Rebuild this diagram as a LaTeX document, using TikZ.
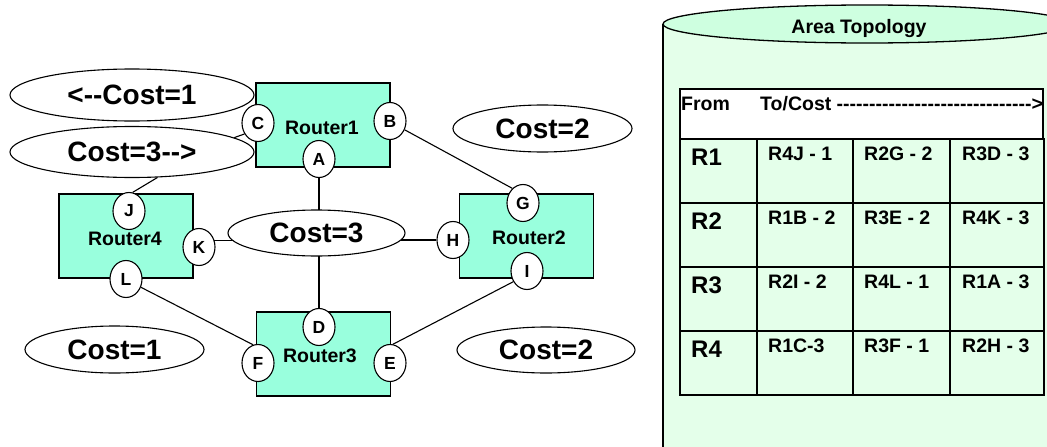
\documentclass[tikz,border=0pt]{standalone}
\usepackage{fontspec}
\newfontfamily\af{Liberation Sans}
\usetikzlibrary{shapes.geometric}
\pgfdeclarelayer{background}
\pgfsetlayers{background,main}

\definecolor{routerfill}{RGB}{153,255,221}
\definecolor{cylbody}{RGB}{228,255,234}
\definecolor{cyltop}{RGB}{206,255,224}

\newcommand\fsz[1]{\fontsize{#1}{#1}\selectfont}

\begin{document}
\begin{tikzpicture}[x=1pt,y=-1pt,
  router/.style={draw, line width=1.3pt, fill=routerfill, minimum width=134pt, minimum height=84pt, inner sep=0pt},
  rlabel/.style={font=\af\bfseries\fsz{19.5}, inner sep=0pt},
  port/.style={ellipse, draw, line width=1.1pt, fill=white, minimum width=32pt, minimum height=37pt, inner sep=0pt, font=\af\bfseries\fsz{17.5}},
  cost/.style={ellipse, draw, line width=1.1pt, fill=white, inner sep=0pt, font=\af\bfseries\fsz{28}},
  link/.style={line width=1.1pt},
  grid/.style={line width=1.5pt},
  rowlab/.style={font=\af\bfseries\fsz{24}, inner sep=0pt, anchor=base west},
  celltxt/.style={font=\af\bfseries\fsz{19.5}, inner sep=0pt, anchor=base west}
]
\useasboundingbox (0,0) rectangle (1047,447);
\clip (0,0) rectangle (1047,447);

% ---------- database cylinder with the topology table ----------
\fill[cylbody] (663,24) rectangle (1080,470);
\draw[line width=1.3pt] (663,24) -- (663,470);
\draw[line width=1.3pt, fill=cyltop] (867,24) ellipse [x radius=204pt, y radius=19pt];
\node[font=\af\bfseries\fsz{19.5}, inner sep=0pt, anchor=base] (title) at (859,33) {Area Topology};

% header box
\draw[grid, fill=white] (680,89) rectangle (1043,139);
\node[celltxt] (from) at (681,110) {From};
\node[celltxt] (tocost) at (760,110) {To/Cost ------------------------------{}>};

% grid of the table
\draw[grid] (680,139) rectangle (1044,395);
\foreach \yy in {203,267,331} \draw[grid] (680,\yy) -- (1044,\yy);
\foreach \xx in {757,853,950} \draw[grid] (\xx,139) -- (\xx,395);

\foreach \i/\a/\b/\c in {1/R4J - 1/R2G - 2/R3D - 3,
                         2/R1B - 2/R3E - 2/R4K - 3,
                         3/R2I - 2/R4L - 1/R1A - 3,
                         4/R1C-3/R3F - 1/R2H - 3}{
  \pgfmathsetmacro\rtop{139+64*(\i-1)}
  \node[rowlab] (row\i) at (691,\rtop+26) {R\i};
  \node[celltxt] (cell\i a) at (768,\rtop+21) {\a};
  \node[celltxt] (cell\i b) at (864,\rtop+21) {\b};
  \node[celltxt] (cell\i c) at (962,\rtop+21) {\c};
}

% ---------- routers ----------
\node[router] (R1) at (323,125) {};
\node[router] (R4) at (126,236) {};
\node[router] (R2) at (526.5,236) {};
\node[router] (R3) at (323.5,354) {};
\node[rlabel] (R1t) at (322,128) {Router1};
\node[rlabel] (R4t) at (125,239) {Router4};
\node[rlabel] (R2t) at (529,238) {Router2};
\node[rlabel] (R3t) at (320,356) {Router3};

% ---------- interfaces ----------
\node[port] (C) at (258,123) {C};
\node[port] (B) at (390,121) {B};
\node[port] (A) at (319,159) {A};
\node[port] (J) at (129,211) {J};
\node[port] (K) at (199,247) {K};
\node[port] (L) at (126,279) {L};
\node[port] (G) at (523,203) {G};
\node[port] (H) at (453,240) {H};
\node[port] (I) at (527,271) {I};
\node[port] (D) at (319,327) {D};
\node[port] (F) at (258,363) {F};
\node[port] (E) at (390,363) {E};

% ---------- link costs ----------
\node[cost, minimum width=244pt, minimum height=52pt] (c1l) at (132,95) {<--Cost=1};
\node[cost, minimum width=244pt, minimum height=51pt] (c3r) at (132,152) {Cost=3-->};
\node[cost, minimum width=177pt, minimum height=46pt] (c3) at (316.5,233) {Cost=3};
\node[cost, minimum width=179pt, minimum height=47pt] (c2a) at (542.5,128.5) {Cost=2};
\node[cost, minimum width=178pt, minimum height=46pt] (c2b) at (546,350) {Cost=2};
\node[cost, minimum width=179pt, minimum height=47pt] (c1b) at (114.5,349.5) {Cost=1};

% ---------- links ----------
\begin{pgfonlayer}{background}
  \draw[link] (C.219) -- (c3r.8);
  \draw[link] (c3r.-45) -- (J.79);
  \draw[link] (A.south) -- (A.south |- c3.center);
  \draw[link] (D.north) -- (D.north |- c3.center);
  \draw[link] (K.24) -- (K.24 -| c3.center);
  \draw[link] (H.west) -- (H.west -| c3.center);
  \draw[link] (B.-31) -- (G.126);
  \draw[link] (L.-29) -- (F.105);
  \draw[link] (I.218) -- (E.81);
\end{pgfonlayer}
\end{tikzpicture}
\end{document}
